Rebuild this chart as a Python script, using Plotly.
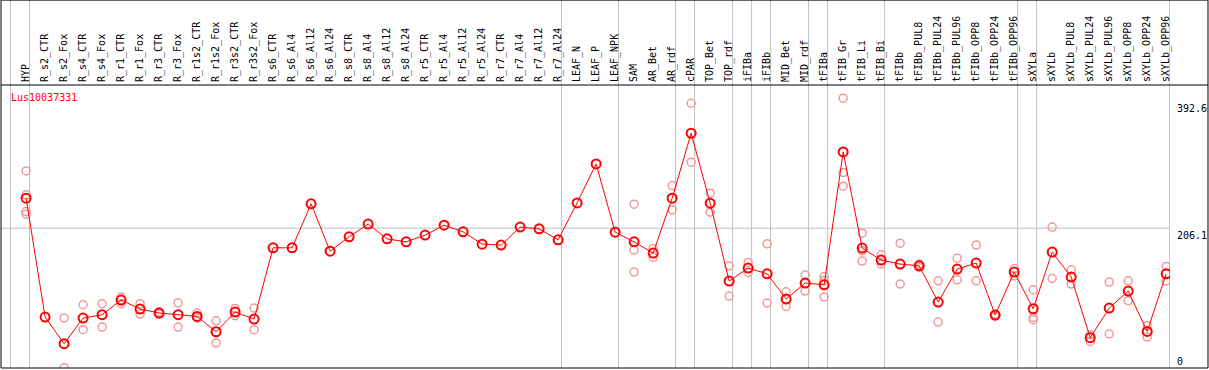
import plotly.graph_objects as go

categories = ["HYP", "R_s2_CTR", "R_s2_Fox", "R_s4_CTR", "R_s4_Fox", "R_r1_CTR", "R_r1_Fox",
              "R_r3_CTR", "R_r3_Fox", "R_r1s2_CTR", "R_r1s2_Fox", "R_r3s2_CTR", "R_r3s2_Fox",
              "R_s6_CTR", "R_s6_Al4", "R_s6_Al12", "R_s6_Al24", "R_s8_CTR", "R_s8_Al4",
              "R_s8_Al12", "R_s8_Al24", "R_r5_CTR", "R_r5_Al4", "R_r5_Al12", "R_r5_Al24",
              "R_r7_CTR", "R_r7_Al4", "R_r7_Al12", "R_r7_Al24", "LEAF_N", "LEAF_P", "LEAF_NPK",
              "SAM", "AR_Bet", "AR_rdf", "cPAR", "TOP_Bet", "TOP_rdf", "iFIBa", "iFIBb",
              "MID_Bet", "MID_rdf", "tFIBa", "tFIB_Gr", "tFIB_Li", "tFIB_Bi", "tFIBb",
              "tFIBb_PUL8", "tFIBb_PUL24", "tFIBb_PUL96", "tFIBb_OPP8", "tFIBb_OPP24",
              "tFIBb_OPP96", "sXYLa", "sXYLb", "sXYLb_PUL8", "sXYLb_PUL24", "sXYLb_PUL96",
              "sXYLb_OPP8", "sXYLb_OPP24", "sXYLb_OPP96"]

mean_values = [250.3, 75.1, 35.8, 73.6, 78.5, 100.1, 86.9, 81.0, 78.5, 76.0, 53.4, 82.4, 72.1,
               177.1, 177.1, 241.9, 172.2, 193.3, 212.0, 190.3, 185.9, 195.8, 210.5, 200.6,
               182.5, 181.1, 207.6, 205.1, 188.9, 243.3, 300.7, 200.2, 185.9, 169.3, 250.3,
               345.9, 242.9, 128.1, 147.2, 138.8, 101.6, 125.1, 122.6, 318.4, 176.7, 159.0,
               153.1, 150.6, 97.2, 145.7, 154.6, 78.0, 141.3, 87.3, 170.8, 134.0, 44.6, 88.3,
               113.4, 53.9, 138.8]

N = None
rep_1 = [290.4, N, 73.6, 93.2, 94.7, 104.5, 94.7, 82.9, 96.1, 81.0, 69.6, 87.8, 88.3,
         N, N, N, N, N, N, N, N, N, N, N, N, N, N, N, N, N, N, N,
         241.4, 176.1, 268.8, 390.1, 257.6, 150.6, 155.5, 183.0, 112.3, 136.9, 134.8, 397.5,
         198.7, 166.8, 184.0, 153.1, 128.5, 161.9, 181.1, 79.5, 146.6, 115.3, 207.6, 144.7,
         49.0, 126.6, 128.5, 62.3, 149.6]
rep_2 = [255.1, N, 0.5, 56.4, 60.3, 94.7, 79.5, 79.5, 60.3, 73.6, 36.8, 77.0, 56.4,
         N, N, N, N, N, N, N, N, N, N, N, N, N, N, N, N, N, N, N,
         173.7, 162.8, 233.0, 303.3, 229.6, 106.0, 140.7, 95.7, 90.7, 113.4, 129.0, 288.0,
         172.7, 153.1, 123.7, 148.2, 67.7, 130.0, 128.5, 76.5, 135.9, 74.5, 131.9, 123.7,
         39.2, 50.1, 99.1, 45.6, 128.1]
rep_3 = [230.5, N, N, N, N, N, N, N, N, N, N, N, N,
         N, N, N, N, N, N, N, N, N, N, N, N, N, N, N, N, N, N, N,
         141.3, N, N, N, N, N, N, N, N, N, 104.5, 267.9,
         157.5, N, N, N, N, N, N, N, N, 71.1, N, N,
         N, N, N, N, N]
rep_4 = [226.7] + [N] * 60

gene_label = "Lus10037331"
y_ticks_upper = [206.1, 392.6]
y_tick_zero = [0]
grid_value = 206.1
group_breaks = [-1, 0, 28, 31, 34, 35, 37, 38, 39, 41, 42, 45, 52, 53, 60]

x_idx = list(range(len(categories)))
rep_x, rep_y = [], []
for reps in (rep_1, rep_2, rep_3, rep_4):
    for i, v in enumerate(reps):
        if v is not None:
            rep_x.append(i)
            rep_y.append(v)

FONT = "DejaVu Sans Mono"
Y_RANGE = [0, 417]
X_RANGE = [-1.32, 60.2]

fig = go.Figure()
fig.add_trace(go.Scatter(
    x=rep_x, y=rep_y, mode="markers", yaxis="y",
    marker=dict(symbol="circle-open", size=8, color="#f09a9a", line=dict(width=1.5, color="#f09a9a")),
    hoverinfo="skip", showlegend=False))
fig.add_trace(go.Scatter(
    x=x_idx, y=mean_values, mode="lines+markers", yaxis="y2",
    line=dict(color="#ff0000", width=1),
    marker=dict(symbol="circle-open", size=9, color="#ff0000", line=dict(width=2, color="#ff0000")),
    showlegend=False))

shapes = []
for b in group_breaks:
    shapes.append(dict(type="line", xref="x", yref="paper", x0=b + 0.18, x1=b + 0.18,
                       y0=0, y1=1.31, line=dict(color="#c0c0c0", width=1), layer="below"))
shapes.append(dict(type="line", xref="paper", yref="y", x0=0, x1=1, y0=grid_value, y1=grid_value,
                   line=dict(color="#c0c0c0", width=1), layer="below"))
# frame
shapes.append(dict(type="rect", xref="paper", yref="paper", x0=0, x1=1.0325, y0=0, y1=1.3,
                   line=dict(color="black", width=1)))
shapes.append(dict(type="line", xref="paper", yref="paper", x0=0, x1=1.0325, y0=1, y1=1,
                   line=dict(color="black", width=1)))

fig.update_layout(
    width=1209, height=370,
    margin=dict(l=1, r=39, t=85, b=2, pad=0, autoexpand=False),
    paper_bgcolor="white", plot_bgcolor="white",
    font=dict(family=FONT, size=10, color="black"),
    xaxis=dict(range=X_RANGE, side="top", tickmode="array", tickvals=x_idx, ticktext=categories,
               tickangle=-90, showgrid=False, zeroline=False, showline=False, ticks="",
               ticklabelstandoff=2,
               tickfont=dict(family=FONT, size=10, color="black"), fixedrange=True),
    yaxis=dict(range=Y_RANGE, side="right", tickmode="array", tickvals=y_ticks_upper,
               ticktext=[f"{v:g}" for v in y_ticks_upper], ticklabelposition="outside bottom",
               showgrid=False, zeroline=False, showline=False, ticks="", ticklabelstandoff=6,
               tickfont=dict(family=FONT, size=10, color="black")),
    yaxis2=dict(range=Y_RANGE, side="right", overlaying="y", tickmode="array", tickvals=y_tick_zero,
                ticktext=["0"], ticklabelposition="outside top", showgrid=False, zeroline=False,
                showline=False, ticks="", ticklabelstandoff=6,
                tickfont=dict(family=FONT, size=10, color="black")),
    shapes=shapes,
    annotations=[dict(text=gene_label, xref="paper", yref="paper", x=0.0068, y=0.957,
                      xanchor="left", yanchor="middle", showarrow=False,
                      font=dict(family=FONT, size=10, color="#ff0000"))],
)

fig.write_html("out.html", config={"displayModeBar": False},
               post_script="document.body.style.margin='0px';document.body.style.padding='0px';")
